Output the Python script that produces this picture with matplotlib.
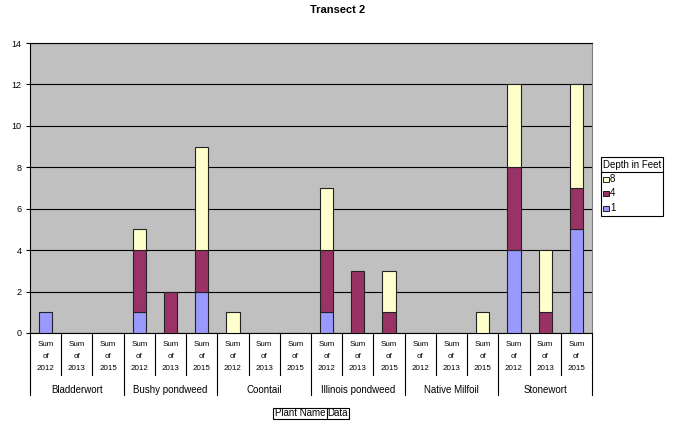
import numpy as np
import matplotlib
matplotlib.use("Agg")
import matplotlib.pyplot as plt
from matplotlib.patches import Rectangle
from matplotlib.lines import Line2D

plt.rcParams["font.family"] = ["Liberation Sans", "DejaVu Sans"]

# data
plants = ["Bladderwort", "Bushy pondweed", "Coontail", "Illinois pondweed",
          "Native Milfoil", "Stonewort"]
years = ["2012", "2013", "2015"]
depth_1 = [1, 0, 0, 1, 0, 2, 0, 0, 0, 1, 0, 0, 0, 0, 0, 4, 0, 5]
depth_4 = [0, 0, 0, 3, 2, 2, 0, 0, 0, 3, 3, 1, 0, 0, 0, 4, 1, 2]
depth_8 = [0, 0, 0, 1, 0, 5, 1, 0, 0, 3, 0, 2, 0, 0, 1, 4, 3, 5]
series_labels = ["1", "4", "8"]
series_colors = ["#9999FF", "#993366", "#FFFFCC"]

W, H = 676, 428
fig = plt.figure(figsize=(W / 100, H / 100), dpi=100)
fig.patch.set_facecolor("white")


def fx(px):
    return px / W


def fy(py):
    return 1 - py / H


ax = fig.add_axes([fx(30), fy(333), fx(592) - fx(30), fy(43) - fy(333)])
ax.set_facecolor("#C0C0C0")

n = len(plants) * len(years)
x = np.arange(n)
bottom = np.zeros(n)
for vals, color in zip([depth_1, depth_4, depth_8], series_colors):
    vals = np.array(vals, dtype=float)
    idx = vals > 0
    ax.bar(x[idx], vals[idx], bottom=bottom[idx], width=0.42, color=color,
           edgecolor="#222222", linewidth=0.8, zorder=3)
    bottom += vals

ax.set_xlim(-0.5, n - 0.5)
ax.set_ylim(0, 14)
ax.set_yticks(np.arange(0, 15, 2))
ax.tick_params(axis="y", labelsize=6.5, length=3, width=0.8, pad=3)
ax.set_xticks([])
ax.yaxis.grid(True, color="black", linewidth=0.8)
ax.set_axisbelow(True)
for side in ["left", "bottom", "top"]:
    ax.spines[side].set_color("black")
    ax.spines[side].set_linewidth(0.8)
ax.spines["right"].set_color("#808080")
ax.spines["right"].set_linewidth(0.8)

# category labels below the axis
ah = 333 - 43
trans = ax.get_xaxis_transform()
for i in range(n):
    yr = years[i % len(years)]
    for k, word in enumerate(["Sum", "of", yr]):
        ax.text(i, -(12 + 12 * k) / ah, word, transform=trans, ha="center",
                va="center", fontsize=5.8)
for g, name in enumerate(plants):
    ax.text(g * len(years) + 1, -57 / ah, name, transform=trans, ha="center",
            va="center", fontsize=7)
for b in range(n + 1):
    depth = 62 if b % len(years) == 0 else 42
    ax.add_line(Line2D([b - 0.5, b - 0.5], [0, -depth / ah], transform=trans,
                       color="black", linewidth=0.8, clip_on=False))

fig.text(0.5, fy(10), "Transect 2", ha="center", va="center", fontsize=8,
         fontweight="bold")

# legend
fig.add_artist(Rectangle((fx(601), fy(216)), fx(663) - fx(601), fy(157) - fy(216),
                         facecolor="white", edgecolor="black", linewidth=0.8))
fig.add_artist(Line2D([fx(601), fx(663)], [fy(172), fy(172)], color="black",
                      linewidth=0.8))
fig.text(fx(603), fy(164.5), "Depth in Feet", ha="left", va="center", fontsize=7)
for k, (lab, color) in enumerate(zip(series_labels[::-1], series_colors[::-1])):
    yc = 179 + 14.5 * k
    fig.add_artist(Rectangle((fx(603), fy(yc + 2.5)), fx(6), fy(0) - fy(5),
                             facecolor=color, edgecolor="black", linewidth=0.6))
    fig.text(fx(610), fy(yc), lab, ha="left", va="center", fontsize=7)

# field buttons
fig.add_artist(Rectangle((fx(273), fy(419)), fx(349) - fx(273), fy(408) - fy(419),
                         facecolor="white", edgecolor="black", linewidth=0.8))
fig.add_artist(Line2D([fx(327), fx(327)], [fy(408), fy(419)], color="black",
                      linewidth=0.8))
fig.text(fx(300), fy(413.5), "Plant Name", ha="center", va="center", fontsize=7)
fig.text(fx(338), fy(413.5), "Data", ha="center", va="center", fontsize=7)

fig.savefig("out.png", dpi=100)
